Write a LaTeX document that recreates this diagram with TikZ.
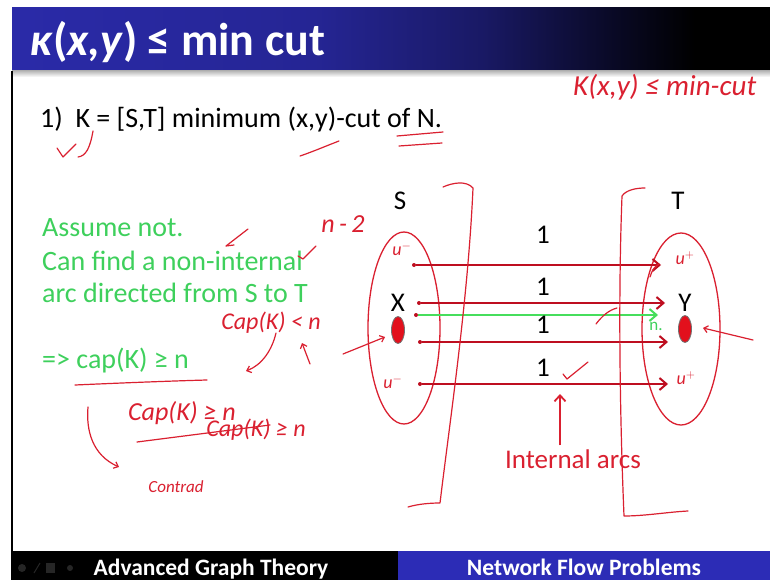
\documentclass[tikz,border=0pt]{standalone}
\usepackage{fontspec}
\setmainfont{Carlito}
\usetikzlibrary{arrows.meta,shapes.geometric}
\definecolor{titleblue}{RGB}{42,42,168}
\definecolor{barblue}{RGB}{44,44,182}
\definecolor{arcred}{RGB}{190,14,32}
\definecolor{inkred}{RGB}{218,32,48}
\definecolor{slgreen}{RGB}{62,208,92}
\definecolor{arcgreen}{RGB}{70,222,92}
\definecolor{ovalred}{RGB}{226,16,28}
\pgfdeclarehorizontalshading{titleshade}{100bp}{color(0bp)=(titleblue); color(25bp)=(titleblue); color(45bp)=(titleblue!88!black); color(56bp)=(titleblue!60!black); color(64bp)=(titleblue!25!black); color(70bp)=(black); color(100bp)=(black)}
\begin{document}
\begin{tikzpicture}[x=1pt,y=-1pt,
  arcline/.style={draw=arcred, line width=2.6pt, -{Straight Barb[length=7pt,width=12pt,line width=2pt]}},
  greenline/.style={draw=arcgreen, line width=2.6pt, -{Straight Barb[length=7pt,width=12pt,line width=2pt]}},
  ink/.style={draw=inkred, line width=1.2pt, line cap=round, line join=round},
  inkarrow/.style={ink, -{Straight Barb[length=4pt,width=7pt]}},
  hand/.style={text=inkred, font=\itshape\fontsize{24}{26}\selectfont, inner sep=0pt},
  slidetext/.style={anchor=base west, inner sep=0pt, font=\fontsize{28}{32}\selectfont},
  greentext/.style={slidetext, text=slgreen},
  onelabel/.style={font=\fontsize{27}{30}\selectfont, inner sep=0pt},
  setlabel/.style={font=\fontsize{27}{30}\selectfont, inner sep=0pt},
  setoval/.style={ellipse, draw=inkred, line width=1.3pt},
  vertex/.style={ellipse, fill=ovalred, draw=black!55, line width=0.8pt, minimum width=13pt, minimum height=27pt, inner sep=0pt},
  startdot/.style={circle, fill=arcred, inner sep=0pt, minimum size=4pt}
]
\useasboundingbox (0,0) rectangle (770,580);
\fill[white] (0,0) rectangle (770,580);
% title bar
\shade[shading=titleshade] (12,8) rectangle (770,71);
\shade[top color=gray!55, bottom color=white] (12,71) rectangle (770,77);
\draw[black, line width=1.6pt] (12,71) -- (12,551);
% bottom bar
\fill[black] (11,551) rectangle (398,580);
\fill[barblue] (398,551) rectangle (770,580);
\fill[gray!30!black] (22,568) circle (4);
\draw[gray!30!black, line width=1pt] (34,573) -- (40,563);
\fill[gray!30!black] (46,563) rectangle (55,573);
\fill[gray!30!black] (70,568) circle (3);
\node[anchor=base, text=white, font=\bfseries\fontsize{23.5}{25}\selectfont, inner sep=0pt] (foot1) at (211,575) {Advanced Graph Theory};
\node[anchor=base, text=white, font=\bfseries\fontsize{23.5}{25}\selectfont, inner sep=0pt] (foot2) at (584,575) {Network Flow Problems};
% title
\node[anchor=base west, inner sep=0pt, text=white, font=\bfseries\fontsize{46}{50}\selectfont] (title) at (30,56) {\textit{κ}(\textit{x,y}) ≤ min cut};
% body text
\node[slidetext] (line1) at (40,128) {1)\ \ K = [S,T] minimum (x,y)-cut of N.};
\node[greentext] (g1) at (42,236) {Assume not.};
\node[greentext] (g2) at (42,270) {Can find a non-internal};
\node[greentext] (g3) at (42,302) {arc directed from S to T};
\node[greentext] (g4) at (42,368) {=> cap(K) ≥ n};
% sets
\node[setlabel] (S) at (400,201) {S};
\node[setlabel] (T) at (678,201) {T};
\node[setoval, minimum width=72pt, minimum height=192pt] (Sset) at (404,328) {};
\node[setoval, minimum width=78pt, minimum height=192pt] (Tset) at (681,329) {};
\node[setlabel] (Xl) at (398,303) {X};
\node[setlabel] (Yl) at (685,303) {Y};
\node[vertex] (x) at (398,330) {};
\node[vertex] (y) at (685,329) {};
% arcs
\node[startdot] (s1) at (414,265) {};
\coordinate (e1) at (661,265);
\node[startdot] (s2) at (419,303) {};
\coordinate (e2) at (665,303);
\node[startdot] (s3) at (416,315) {};
\coordinate (e3) at (658,315);
\node[startdot] (s4) at (420,342) {};
\coordinate (e4) at (668,342);
\node[startdot] (s5) at (420,384) {};
\coordinate (e5) at (668,384);
\draw[arcline] (s1) -- (e1);
\draw[arcline] (s2) -- (e2);
\draw[arcline] (s4) -- (e4);
\draw[arcline] (s5) -- (e5);
\draw[greenline] (s3) -- (e3);
\node[onelabel] (c1) at (543,235) {1};
\node[onelabel] (c2) at (543,287) {1};
\node[onelabel] (c3) at (543,325) {1};
\node[onelabel] (c4) at (543,368) {1};
% internal arcs
\node[text=inkred, font=\fontsize{27}{30}\selectfont, inner sep=0pt] (intl) at (573,459) {Internal arcs};
\coordinate (iatip) at (560,394);
\draw[draw=inkred, line width=1.8pt, -{Straight Barb[length=6pt,width=11pt]}] (iatip |- intl.north) ++(0,-4) -- (iatip);
% handwritten cut brackets
\draw[ink] (443,187) .. controls (452,183) and (466,180) .. (473,188) .. controls (468,300) and (450,420) .. (440,503) .. controls (430,503) and (418,504) .. (408,507);
\draw[ink] (645,188) .. controls (636,188) and (626,190) .. (622,196) .. controls (618,300) and (620,420) .. (624,516) .. controls (645,516) and (668,512) .. (688,511);
% handwriting annotations
\draw[ink] (57,148) -- (63,157) -- (76,144);
\draw[ink] (78,157) .. controls (86,156) and (90,148) .. (93,131);
\draw[ink] (300,156) .. controls (312,152) and (326,146) .. (339,141);
\draw[ink] (397,136) -- (443,132);
\draw[ink] (399,146) -- (442,143);
\node[hand, anchor=base west, font=\itshape\fontsize{29}{31}\selectfont] (topnote) at (573,96) {K(x,y) ≤ min-cut};
\node[hand, font=\itshape\fontsize{26}{28}\selectfont] (nm2) at (343,224) {n\,-\,2};
\draw[ink] (248,229) -- (226,246) -- (234,245);
\draw[ink] (316,246) -- (303,259) -- (298,256);
\node[hand, font=\itshape\fontsize{18}{20}\selectfont] (u1) at (402,249) {u$^{-}$};
\node[hand, font=\itshape\fontsize{18}{20}\selectfont] (u2) at (685,258) {u$^{+}$};
\node[hand, font=\itshape\fontsize{18}{20}\selectfont] (u3) at (393,382) {u$^{-}$};
\node[hand, font=\itshape\fontsize{18}{20}\selectfont] (u4) at (686,378) {u$^{+}$};
\node[text=slgreen, font=\fontsize{17}{18}\selectfont, inner sep=0pt] (gn) at (656,326) {n.};
\draw[ink] (596,324) .. controls (602,316) and (609,310) .. (617,308);
\draw[ink] (650,277) .. controls (652,270) and (655,266) .. (659,264);
\draw[ink] (563,374) -- (567,379) -- (588,362);
\node[hand] (capl) at (271,323) {Cap(K) < n};
\draw[inkarrow] (276,333) .. controls (272,350) and (262,365) .. (246,371);
\draw[inkarrow] (310,364) -- (302,343);
\draw[ink] (75,385) .. controls (120,383) and (170,381) .. (207,380);
\node[hand, font=\itshape\fontsize{26}{28}\selectfont] (capge) at (182,413) {Cap(K) ≥ n};
\node[hand, font=\itshape\fontsize{24}{26}\selectfont] (capge2) at (256,430) {Cap(K) ≥ n};
\draw[ink] (137,442) -- (270,425);
\draw[inkarrow] (88,407) .. controls (86,430) and (92,455) .. (119,467);
\node[hand, font=\itshape\fontsize{17}{18}\selectfont] (contra) at (176,487) {Contrad};
\draw[inkarrow] (343,354) -- (385,337);
\draw[inkarrow] (753,340) -- (703,328);
\end{tikzpicture}
\end{document}
